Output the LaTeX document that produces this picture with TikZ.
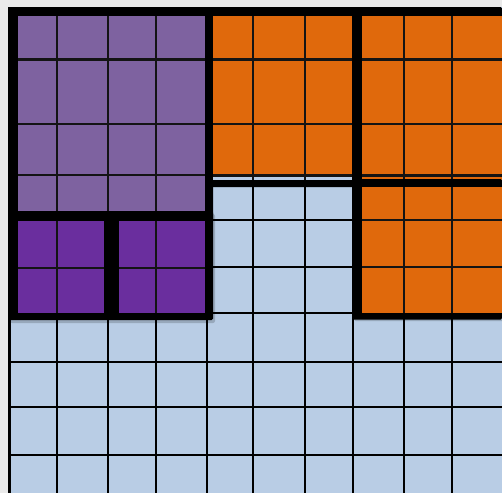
\documentclass[tikz,border=0pt]{standalone}
\definecolor{bgray}{HTML}{EAEAEA}
\definecolor{cblue}{HTML}{B9CDE5}
\definecolor{purpL}{HTML}{7E62A0}
\definecolor{purpD}{HTML}{6A2E9E}
\definecolor{corange}{HTML}{E0690C}
\begin{document}
\begin{tikzpicture}[x=1pt,y=-1pt,
  gridline/.style={line width=2.6pt,color=black},
  cellline/.style={line width=2.4pt,color=black!92},
  border/.style={fill=black,rounded corners=1.5pt},
  shade/.style={fill=black,opacity=0.18,rounded corners=2pt}]
\useasboundingbox (0,0) rectangle (502,493);
\fill[bgray] (0,0) rectangle (502,493);
% blue base grid
\fill[cblue] (8,7) rectangle (502,493);
\foreach \x in {9.5,57,108,156,207,253,305,353,404,452}
  \draw[gridline] (\x,7) -- (\x,493);
\foreach \y in {220,267,313,362,407,455}
  \draw[gridline] (8,\y) -- (502,\y);
% shadows
\fill[shade] (10,214) rectangle (215,323);
\fill[shade] (354,182) rectangle (504,321);
% light purple block
\fill[border] (8,7) rectangle (213,221);
\fill[purpL] (18,15.5) rectangle (205,211);
\foreach \x in {57,108,156} \draw[cellline] (\x,15.5) -- (\x,211);
\foreach \y in {59.5,124,175} \draw[cellline] (18,\y) -- (205,\y);
% dark purple blocks
\fill[border] (8,211) rectangle (213,320);
\fill[purpD] (18,221) rectangle (104,313);
\fill[purpD] (119,221) rectangle (205,313);
\draw[cellline] (57,221) -- (57,313);
\draw[cellline] (156,221) -- (156,313);
\draw[cellline] (18,268) -- (104,268);
\draw[cellline] (119,268) -- (205,268);
% top orange blocks
\fill[border] (205,7) rectangle (502,187);
\fill[corange] (213,15.5) rectangle (352,174.5);
\fill[cblue] (213,176.5) rectangle (352,179.5);
\fill[corange] (362,15.5) rectangle (502,179.5);
\foreach \x in {253,305} \draw[cellline] (\x,15.5) -- (\x,179.5);
\foreach \x in {404,452} \draw[cellline] (\x,15.5) -- (\x,179.5);
\foreach \y in {59.5,124,175.3} {
  \draw[cellline] (213,\y) -- (352,\y);
  \draw[cellline] (362,\y) -- (502,\y);
}
% lower right orange block
\fill[border] (352,179) rectangle (502,319.5);
\fill[corange] (362,187) rectangle (502,312.5);
\foreach \x in {404,452} \draw[cellline] (\x,187) -- (\x,312.5);
\foreach \y in {220,267} \draw[cellline] (362,\y) -- (502,\y);
\end{tikzpicture}
\end{document}
